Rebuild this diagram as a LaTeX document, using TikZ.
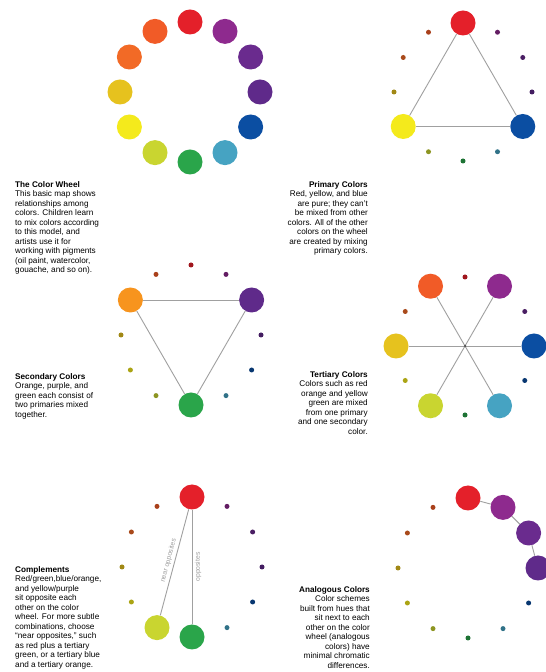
\documentclass[tikz,border=0pt]{standalone}
\usepackage{fontspec}
\setmainfont{Liberation Sans}
\definecolor{cRed}{HTML}{E4202A}
\definecolor{cMag}{HTML}{8E2A8E}
\definecolor{cVio}{HTML}{6A2B8E}
\definecolor{cPur}{HTML}{5F2A8A}
\definecolor{cBlue}{HTML}{0B4EA2}
\definecolor{cTeal}{HTML}{46A3C2}
\definecolor{cGreen}{HTML}{2AA54A}
\definecolor{cYG}{HTML}{C9D530}
\definecolor{cYel}{HTML}{F4EA1C}
\definecolor{cGold}{HTML}{E6C21E}
\definecolor{cOrg}{HTML}{F26A26}
\definecolor{cOrR}{HTML}{F15B27}
\definecolor{cOrange}{HTML}{F7941E}
\definecolor{cLine}{HTML}{A0A0A0}
\tikzset{
  bigc/.style={circle, minimum size=25pt, inner sep=0pt, fill=#1},
  sdot/.style={circle, minimum size=5pt, inner sep=0pt, fill=#1!70!black},
  link/.style={draw=cLine, line width=0.9pt},
  txt/.style={inner sep=0pt, font=\fontsize{8.2}{9.5}\selectfont},
  lbl/.style={inner sep=2.5pt, font=\fontsize{6.8}{7}\selectfont, text=gray!75}
}
\begin{document}
\begin{tikzpicture}[x=1pt,y=1pt]
\useasboundingbox (0,0) rectangle (546,672);
\fill[white] (0,0) rectangle (546,672);

% Wheel 1: the color wheel
\begin{scope}[shift={(190,580)}]
\foreach \k/\c in {0/cRed,1/cMag,2/cVio,3/cPur,4/cBlue,5/cTeal,6/cGreen,7/cYG,8/cYel,9/cGold,10/cOrg,11/cOrR}
  \node[bigc=\c] (wa\k) at ({90-30*\k}:70) {};
\end{scope}

% Wheel 2: primary
\begin{scope}[shift={(463,580)}]
\foreach \k/\c in {0/cRed,4/cBlue,8/cYel}
  \node[bigc=\c] (wb\k) at ({90-30*\k}:69) {};
\foreach \k/\c in {1/cMag,2/cVio,3/cPur,5/cTeal,6/cGreen,7/cYG,9/cGold,10/cOrg,11/cOrR}
  \node[sdot=\c] (wb\k) at ({90-30*\k}:69) {};
\end{scope}
\draw[link] (wb0) -- (wb4);
\draw[link] (wb4) -- (wb8);
\draw[link] (wb8) -- (wb0);

% Wheel 3: secondary
\begin{scope}[shift={(191,337)}]
\foreach \k/\c in {10/cOrange,2/cPur,6/cGreen}
  \node[bigc=\c] (wc\k) at ({90-30*\k}:70) {};
\foreach \k/\c in {0/cRed,1/cMag,3/cPur,4/cBlue,5/cTeal,7/cYG,8/cYel,9/cGold,11/cOrR}
  \node[sdot=\c] (wc\k) at ({90-30*\k}:70) {};
\end{scope}
\draw[link] (wc10) -- (wc2);
\draw[link] (wc2) -- (wc6);
\draw[link] (wc6) -- (wc10);

% Wheel 4: tertiary
\begin{scope}[shift={(465,326)}]
\foreach \k/\c in {11/cOrR,1/cMag,9/cGold,3/cBlue,5/cTeal,7/cYG}
  \node[bigc=\c] (wd\k) at ({90-30*\k}:69) {};
\foreach \k/\c in {0/cRed,2/cVio,4/cBlue,6/cGreen,8/cYel,10/cOrg}
  \node[sdot=\c] (wd\k) at ({90-30*\k}:69) {};
\end{scope}
\draw[link] (wd11) -- (wd5);
\draw[link] (wd1) -- (wd7);
\draw[link] (wd9) -- (wd3);
\node[circle, fill=gray!60!black, minimum size=2.5pt, inner sep=0pt] (wdc) at (465,326) {};

% Wheel 5: complements
\begin{scope}[shift={(192,105)}]
\foreach \k/\c in {0/cRed,6/cGreen,7/cYG}
  \node[bigc=\c] (we\k) at ({90-30*\k}:70) {};
\foreach \k/\c in {1/cMag,2/cVio,3/cPur,4/cBlue,5/cTeal,8/cYel,9/cGold,10/cOrg,11/cOrR}
  \node[sdot=\c] (we\k) at ({90-30*\k}:70) {};
\end{scope}
\draw[link] (we6) -- node[lbl, midway, sloped, below] {opposites} (we0);
\draw[link] (we7) -- node[lbl, midway, sloped, above] {near opposites} (we0);

% Wheel 6: analogous
\begin{scope}[shift={(468,104)}]
\foreach \k/\c in {0/cRed,1/cMag,2/cVio,3/cPur}
  \node[bigc=\c] (wf\k) at ({90-30*\k}:70) {};
\foreach \k/\c in {4/cBlue,5/cTeal,6/cGreen,7/cYG,8/cYel,9/cGold,10/cOrg,11/cOrR}
  \node[sdot=\c] (wf\k) at ({90-30*\k}:70) {};
\end{scope}
\draw[link] (wf0) -- (wf1);
\draw[link] (wf1) -- (wf2);
\draw[link] (wf2) -- (wf3);

% Texts
\node[txt, anchor=north west, align=left] (t1) at (15,491) {\textbf{The Color Wheel}\\This basic map shows\\relationships among\\colors. Children learn\\to mix colors according\\to this model, and\\artists use it for\\working with pigments\\(oil paint, watercolor,\\gouache, and so on).};
\node[txt, anchor=north east, align=right] (t2) at (368,491) {\textbf{Primary Colors}\\Red, yellow, and blue\\are pure; they can't\\be mixed from other\\colors. All of the other\\colors on the wheel\\are created by mixing\\primary colors.};
\node[txt, anchor=north west, align=left] (t3) at (15,299) {\textbf{Secondary Colors}\\Orange, purple, and\\green each consist of\\two primaries mixed\\together.};
\node[txt, anchor=north east, align=right] (t4) at (368,301) {\textbf{Tertiary Colors}\\Colors such as red\\orange and yellow\\green are mixed\\from one primary\\and one secondary\\color.};
\node[txt, anchor=north west, align=left] (t5) at (15,106) {\textbf{Complements}\\Red/green,blue/orange,\\and yellow/purple\\sit opposite each\\other on the color\\wheel. For more subtle\\combinations, choose\\``near opposites,'' such\\as red plus a tertiary\\green, or a tertiary blue\\and a tertiary orange.};
\node[txt, anchor=north east, align=right] (t6) at (370,86) {\textbf{Analogous Colors}\\Color schemes\\built from hues that\\sit next to each\\other on the color\\wheel (analogous\\colors) have\\minimal chromatic\\differences.};
\end{tikzpicture}
\end{document}
